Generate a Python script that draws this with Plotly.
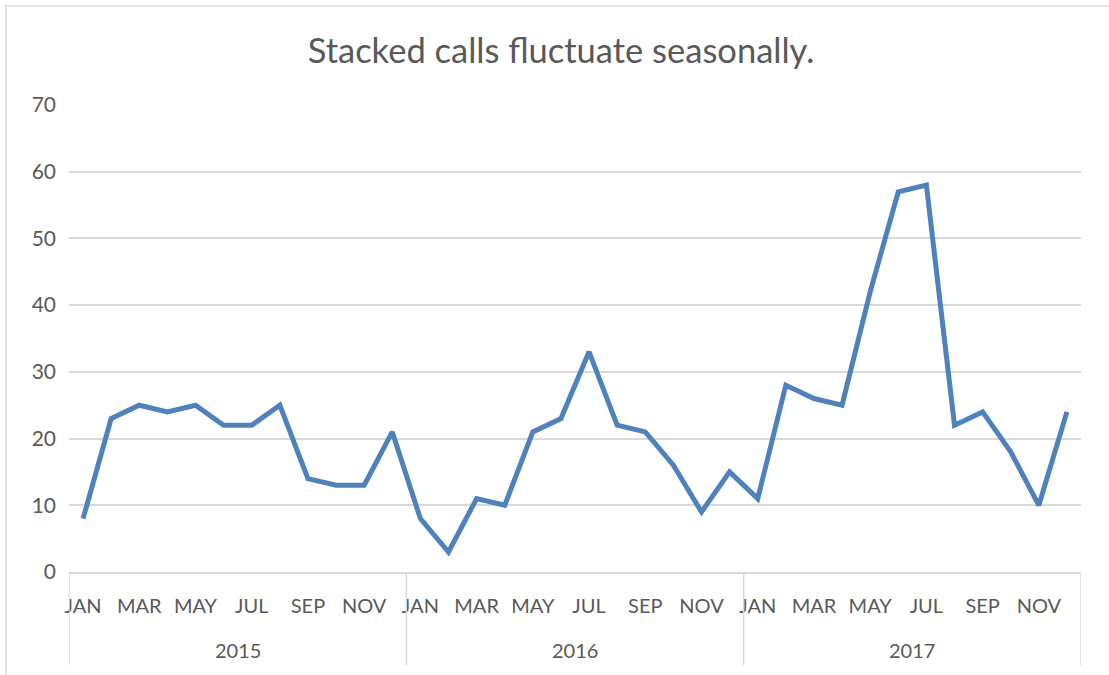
import plotly.graph_objects as go

months = ["JAN", "FEB", "MAR", "APR", "MAY", "JUN", "JUL", "AUG", "SEP", "OCT", "NOV", "DEC"]
years = ["2015", "2016", "2017"]
calls_2015 = [8, 23, 25, 24, 25, 22, 22, 25, 14, 13, 13, 21]
calls_2016 = [8, 3, 11, 10, 21, 23, 33, 22, 21, 16, 9, 15]
calls_2017 = [11, 28, 26, 25, 42, 57, 58, 22, 24, 18, 10, 24]
title = "Stacked calls fluctuate seasonally."

values = calls_2015 + calls_2016 + calls_2017
labels = [m for _ in years for m in months]
idx = list(range(len(values)))

W, H = 1109, 675
ML, MR, MT, MB = 69, 28, 105, 103
pw, ph = W - ML - MR, H - MT - MB

fig = go.Figure()
fig.add_trace(go.Scatter(
    x=idx, y=values, mode="lines",
    line=dict(color="#4f81bd", width=5),
    hoverinfo="x+y", showlegend=False,
))

font = "Lato, 'Open Sans', sans-serif"
grey = "#595959"

shapes = []
n = len(months)
for k in range(len(years) + 1):
    xb = k * n - 0.5
    shapes.append(dict(type="line", xref="x", yref="paper", x0=xb, x1=xb,
                       y0=0, y1=-(665 - 572) / ph, line=dict(color="#d9d9d9", width=1.5)))
# outer chart border
shapes.append(dict(type="rect", xref="paper", yref="paper",
                   x0=(6 - ML) / pw, x1=(W + 10 - ML) / pw,
                   y0=-(H + 10 - (H - MB)) / ph, y1=((H - MB) - 6) / ph,
                   line=dict(color="#d9d9d9", width=1.5), fillcolor="rgba(0,0,0,0)", layer="below"))

annotations = []
for k, yr in enumerate(years):
    annotations.append(dict(x=k * n + (n - 1) / 2, xref="x", y=-(650 - 572) / ph, yref="paper",
                            text=yr, showarrow=False, yanchor="middle",
                            font=dict(family=font, size=20, color=grey)))

fig.update_layout(
    width=W, height=H,
    margin=dict(l=ML, r=MR, t=MT, b=MB),
    paper_bgcolor="white", plot_bgcolor="white",
    title=dict(text=title, x=561 / W, xref="container", xanchor="center", y=1 - 51 / H, yanchor="middle",
               font=dict(family=font, size=34.5, color=grey)),
    xaxis=dict(
        range=[-0.5, len(values) - 0.5],
        tickmode="array", tickvals=idx[::2], ticktext=labels[::2],
        showgrid=False, zeroline=False,
        showline=True, linecolor="#d9d9d9", linewidth=1.5,
        ticks="", ticklabelstandoff=15,
        tickfont=dict(family=font, size=20, color=grey),
    ),
    yaxis=dict(
        range=[0, 70], dtick=10,
        showgrid=True, gridcolor="#d9d9d9", gridwidth=1.5,
        zeroline=False, showline=False, ticks="",
        ticklabelstandoff=12,
        tickfont=dict(family=font, size=21, color=grey),
    ),
    shapes=shapes,
    annotations=annotations,
)

fig.write_html("out.html", config={"displayModeBar": False},
               post_script="document.body.style.margin='0';document.body.style.padding='0';")
